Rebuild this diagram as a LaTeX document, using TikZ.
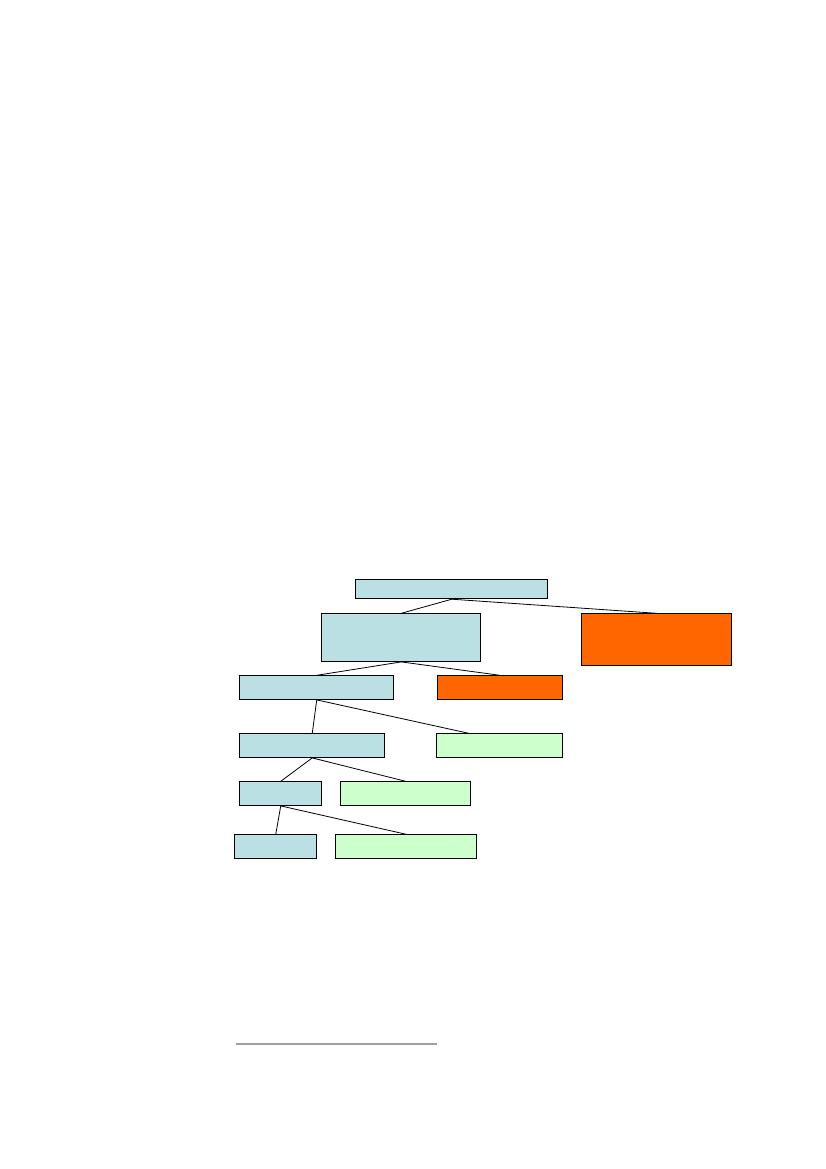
\documentclass[tikz,border=0pt]{standalone}
\usepackage{xcolor}
\usepackage{tikz}

\definecolor{paleblue}{RGB}{187,224,227}
\definecolor{hotorange}{RGB}{255,102,0}
\definecolor{palegreen}{RGB}{204,255,204}
\definecolor{rulegray}{RGB}{160,160,160}

\tikzset{
  box/.style={draw, line width=0.9pt, anchor=north west, inner sep=0pt},
  bluebox/.style={box, fill=paleblue},
  orangebox/.style={box, fill=hotorange},
  greenbox/.style={box, fill=palegreen},
  link/.style={line width=0.8pt}
}

\begin{document}
\begin{tikzpicture}[x=1pt,y=1pt,yscale=-1,xscale=1]
\useasboundingbox (0,0) rectangle (826,1169);

\node [bluebox, minimum width=192pt, minimum height=19pt] (root) at (355.3,579.3) {};
\node [bluebox, minimum width=159pt, minimum height=47.7pt] (hub) at (321.3,613.3) {};
\node [orangebox, minimum width=150pt, minimum height=52pt] (alarm) at (581.3,613.3) {};

\node [bluebox, minimum width=154pt, minimum height=23.7pt] (bthree) at (239.3,675.3) {};
\node [orangebox, minimum width=125.6pt, minimum height=23.7pt] (othree) at (436.7,675.3) {};

\node [bluebox, minimum width=145pt, minimum height=23.7pt] (bfour) at (239.3,733.3) {};
\node [greenbox, minimum width=126pt, minimum height=23.7pt] (gfour) at (436.3,733.3) {};

\node [bluebox, minimum width=82pt, minimum height=23.7pt] (bfive) at (239.3,781.3) {};
\node [greenbox, minimum width=130pt, minimum height=23.7pt] (gfive) at (340.3,781.3) {};

\node [bluebox, minimum width=82pt, minimum height=23.7pt] (bsix) at (234.3,834.3) {};
\node [greenbox, minimum width=141pt, minimum height=23.7pt] (gsix) at (335.3,834.3) {};

\draw [link] (root.south) -- (hub.north);
\draw [link] (root.south) -- (alarm.north);
\draw [link] (hub.south) -- (bthree.north);
\draw [link] (hub.south) -- (othree.north);
\draw [link] (bthree.south) -- (bfour.north);
\draw [link] (bthree.south) -- ([xshift=-31pt]gfour.north);
\draw [link] (bfour.south) -- (bfive.north);
\draw [link] (bfour.south) -- (gfive.north);
\draw [link] (bfive.south) -- (bsix.north);
\draw [link] (bfive.south) -- (gsix.north);

\draw [rulegray, line width=1.7pt] (236,1044) -- (436.7,1044);
\end{tikzpicture}
\end{document}
